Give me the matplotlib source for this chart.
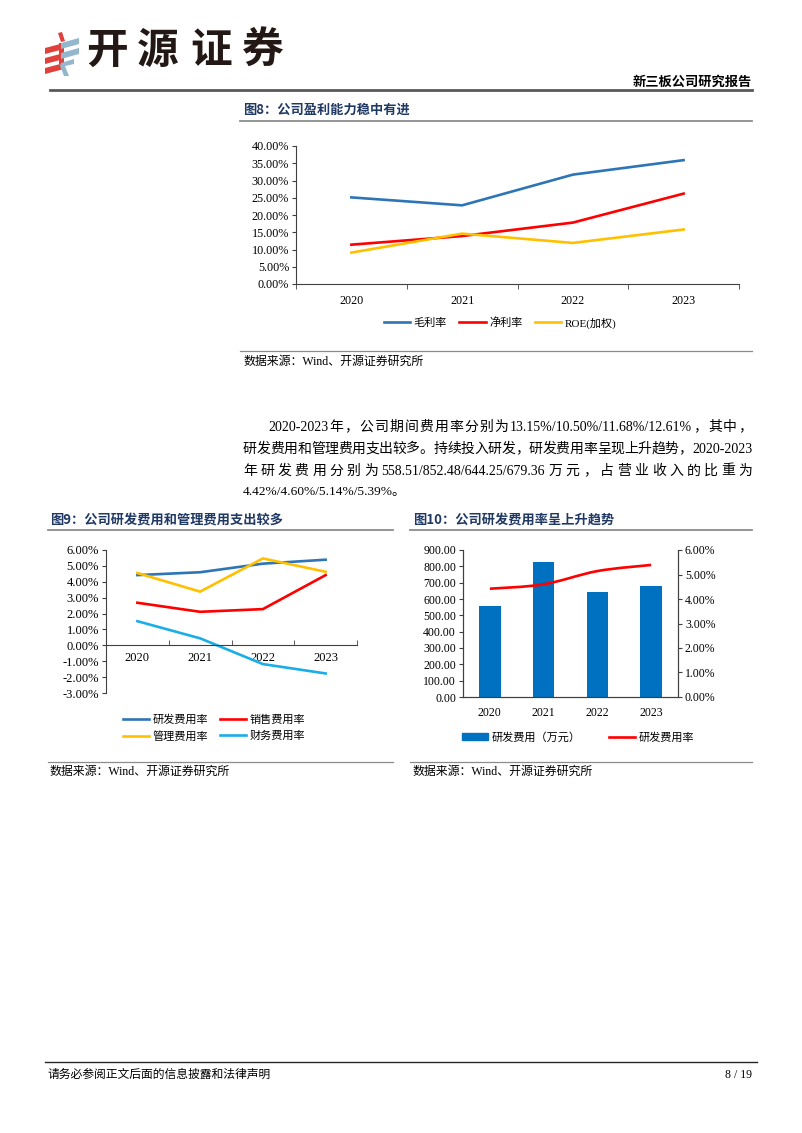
import re
import numpy as np
import matplotlib
matplotlib.use('Agg')
import matplotlib.pyplot as plt
from matplotlib.lines import Line2D
from matplotlib.patches import Polygon, Patch, PathPatch
from matplotlib.path import Path

plt.rcParams['font.family'] = ['Liberation Serif', 'Noto Sans CJK SC']
CJK = ['Noto Sans CJK SC', 'Liberation Serif']

W, H = 802, 1133

# ---- data ----
years = ['2020', '2021', '2022', '2023']

# fig 8 (%)
gross_margin = [25.1, 22.8, 31.7, 35.9]
net_margin = [11.4, 13.9, 17.8, 26.2]
roe_weighted = [9.1, 14.6, 11.9, 15.8]

# fig 9 (%)
rd_rate = [4.42, 4.60, 5.14, 5.39]
sales_rate = [2.68, 2.11, 2.28, 4.42]
admin_rate = [4.55, 3.38, 5.47, 4.63]
fin_rate = [1.52, 0.44, -1.18, -1.77]

# fig 10
rd_expense = [558.51, 828.0, 644.25, 679.36]   # 万元, as drawn

para_lines = [
    '2020-2023 年，公司期间费用率分别为 13.15%/10.50%/11.68%/12.61%，其中，',
    '研发费用和管理费用支出较多。持续投入研发，研发费用率呈现上升趋势，2020-2023',
    '年研发费用分别为 558.51/852.48/644.25/679.36 万元，占营业收入的比重为',
    '4.42%/4.60%/5.14%/5.39%。',
]

BLUE = '#2E75B6'
RED = '#FF0000'
YELLOW = '#FFC000'
LBLUE = '#1AAEE8'
BAR = '#0070C0'
NAVY = '#1F3864'
AXC = '#404040'

fig = plt.figure(figsize=(W / 100, H / 100), dpi=100)


def fx(x):
    return x / W


def fy(y):
    return 1 - y / H


def px_axes(x0, y0, x1, y1):
    return fig.add_axes([fx(x0), fy(y1), (x1 - x0) / W, (y1 - y0) / H])


def hline(x0, x1, y, color, lw):
    fig.add_artist(Line2D([fx(x0), fx(x1)], [fy(y), fy(y)], color=color, lw=lw,
                          transform=fig.transFigure))


def txt(x, y, s, **kw):
    kw.setdefault('va', 'center')
    return fig.text(fx(x), fy(y), s, **kw)


def poly(pts, color):
    fig.add_artist(Polygon([(fx(a), fy(b)) for a, b in pts], closed=True,
                           facecolor=color, edgecolor='none', transform=fig.transFigure))


def justify(s, x0, x1, y, size):
    tokens = re.findall(r'[A-Za-z0-9.%/\-]+|[^\sA-Za-z0-9.%/\-]', s)
    r = fig.canvas.get_renderer()
    widths = []
    for tk in tokens:
        t = fig.text(0, 0, tk, fontsize=size)
        widths.append(t.get_window_extent(r).width)
        t.remove()
    gap = (x1 - x0 - sum(widths)) / (len(tokens) - 1)
    x = x0
    for tk, w in zip(tokens, widths):
        txt(x, y, tk, fontsize=size)
        x += w + gap


def style_spines(a, show):
    for s in ['left', 'right', 'top', 'bottom']:
        a.spines[s].set_visible(s in show)
        a.spines[s].set_color(AXC)
        a.spines[s].set_linewidth(0.8)


# ---- header ----
red = '#E0413B'
lb = '#93B7CC'
poly([(58, 33), (62, 32), (65, 41), (61, 42)], red)
poly([(45, 48), (64, 43), (64, 49), (45, 54)], red)
poly([(45, 58), (64, 53), (64, 59), (45, 64)], red)
poly([(45, 68), (64, 63), (64, 69), (45, 74)], red)
poly([(59, 43), (64, 43), (64, 64), (59, 64)], red)
poly([(61, 43), (79, 38), (79, 44), (61, 49)], lb)
poly([(61, 53), (79, 48), (79, 54), (61, 59)], lb)
poly([(61, 63), (74, 59), (74, 64), (65, 66), (69, 76), (64, 76), (60, 66)], lb)
for ch, xc in zip('开源证券', [107, 158, 211, 263]):
    txt(xc, 51, ch, fontsize=30, weight='bold', family=CJK, ha='center', color='#231815')

txt(752, 82, '新三板公司研究报告', fontsize=9.5, weight='bold', family=CJK, ha='right')
hline(50, 752, 89.5, '#595959', 2.0)

# ---- figure 8 ----
txt(243, 110, '图8：公司盈利能力稳中有进', fontsize=9.5, weight='bold', family=CJK, color=NAVY)
hline(240, 752, 121, '#8C8C8C', 1.3)

x = np.arange(4)
ax8 = px_axes(296, 146, 739, 284)
ax8.plot(x, gross_margin, color=BLUE, lw=1.9, label='毛利率')
ax8.plot(x, net_margin, color=RED, lw=1.9, label='净利率')
ax8.plot(x, roe_weighted, color=YELLOW, lw=1.9, label='ROE(加权)')
ax8.set_xlim(-0.5, 3.5)
ax8.set_ylim(0, 40)
ax8.set_yticks(np.arange(0, 41, 5))
ax8.set_yticklabels([f'{v:.2f}%' for v in np.arange(0, 41, 5)])
ax8.set_xticks(x)
ax8.set_xticklabels(years)
ax8.set_xticks(np.arange(-0.5, 4, 1), minor=True)
ax8.tick_params(axis='y', direction='out', length=3, pad=2, labelsize=8.7, color=AXC)
ax8.tick_params(axis='x', which='major', length=0, pad=8, labelsize=8.7)
ax8.tick_params(axis='x', which='minor', direction='out', length=3.5, color=AXC)
style_spines(ax8, ['left', 'bottom'])
ax8.legend(loc='center', bbox_to_anchor=(fx(500), fy(323)), bbox_transform=fig.transFigure,
           ncol=3, frameon=False, fontsize=8, handlelength=2.4, handletextpad=0.3,
           columnspacing=1.1)

hline(240, 752, 351, '#8C8C8C', 0.9)
txt(243, 362, '数据来源：Wind、开源证券研究所', fontsize=8.6)

# ---- paragraph ----
justify(para_lines[0], 268, 752, 427, 10)
justify(para_lines[1], 243, 752, 449, 10)
justify(para_lines[2], 243, 752, 471, 10)
txt(243, 492, para_lines[3], fontsize=9.6)

# ---- figure 9 ----
txt(50, 520, '图9：公司研发费用和管理费用支出较多', fontsize=9.5, weight='bold', family=CJK, color=NAVY)
hline(48, 393, 530, '#8C8C8C', 1.3)

ax9 = px_axes(106, 550, 357, 693)
l_rd, = ax9.plot(x, rd_rate, color=BLUE, lw=1.9)
l_sa, = ax9.plot(x, sales_rate, color=RED, lw=1.9)
l_ad, = ax9.plot(x, admin_rate, color=YELLOW, lw=1.9)
l_fi, = ax9.plot(x, fin_rate, color=LBLUE, lw=1.9)
ax9.set_xlim(-0.5, 3.5)
ax9.set_ylim(-3, 6)
yt9 = np.arange(-3, 7, 1)
ax9.set_yticks(yt9)
ax9.set_yticklabels([f'{v:.2f}%' for v in yt9])
ax9.set_xticks(x)
ax9.set_xticklabels(years)
ax9.set_xticks(np.arange(0.5, 4, 1), minor=True)
ax9.spines['bottom'].set_position(('data', 0))
ax9.tick_params(axis='y', direction='out', length=3, pad=2, labelsize=9, color=AXC)
ax9.tick_params(axis='x', which='major', length=0, pad=5, labelsize=9)
ax9.tick_params(axis='x', which='minor', direction='in', length=3.5, color=AXC)
style_spines(ax9, ['left', 'bottom'])
# column-major fill: rows read 研发/销售, 管理/财务
ax9.legend([l_rd, l_ad, l_sa, l_fi], ['研发费用率', '管理费用率', '销售费用率', '财务费用率'],
           loc='center', bbox_to_anchor=(fx(214), fy(728)), bbox_transform=fig.transFigure,
           ncol=2, frameon=False, fontsize=8, handlelength=2.4, handletextpad=0.3,
           columnspacing=1.0, labelspacing=0.55)

hline(48, 393, 762, '#8C8C8C', 0.9)
txt(50, 772, '数据来源：Wind、开源证券研究所', fontsize=8.6)

# ---- figure 10 ----
txt(413, 520, '图10：公司研发费用率呈上升趋势', fontsize=9.5, weight='bold', family=CJK, color=NAVY)
hline(410, 752, 530, '#8C8C8C', 1.3)

ax10 = px_axes(463, 550, 678, 697)
ax10.bar(x, rd_expense, width=0.4, color=BAR)
ax10.set_xlim(-0.5, 3.5)
ax10.set_ylim(0, 900)
yt10 = np.arange(0, 901, 100)
ax10.set_yticks(yt10)
ax10.set_yticklabels([f'{v:.2f}' for v in yt10])
ax10.set_xticks(x)
ax10.set_xticklabels(years)
ax10.tick_params(axis='y', direction='out', length=3, pad=2, labelsize=8.5, color=AXC)
ax10.tick_params(axis='x', length=0, pad=7, labelsize=8.5)

ax10r = ax10.twinx()
ax10r.set_ylim(0, 6)
yt10r = np.arange(0, 7, 1)
ax10r.set_yticks(yt10r)
ax10r.set_yticklabels([f'{v:.2f}%' for v in yt10r])
ax10r.tick_params(axis='y', direction='out', length=3, pad=2, labelsize=8.5, color=AXC)

# smooth curve through the rate points (Catmull-Rom as cubic Beziers)
pts = np.column_stack([x, rd_rate]).astype(float)
verts = [tuple(pts[0])]
codes = [Path.MOVETO]
for i in range(len(pts) - 1):
    p0 = pts[max(i - 1, 0)]
    p1 = pts[i]
    p2 = pts[i + 1]
    p3 = pts[min(i + 2, len(pts) - 1)]
    verts += [tuple(p1 + (p2 - p0) / 6), tuple(p2 - (p3 - p1) / 6), tuple(p2)]
    codes += [Path.CURVE4] * 3
ax10r.add_patch(PathPatch(Path(verts, codes), facecolor='none', edgecolor=RED, lw=1.9))

style_spines(ax10, ['left', 'right', 'bottom'])
style_spines(ax10r, ['left', 'right', 'bottom'])

handles = [Patch(color=BAR), Line2D([], [], color=RED, lw=1.9)]
ax10r.legend(handles, ['研发费用（万元）', '研发费用率'], loc='center',
             bbox_to_anchor=(fx(578), fy(737)), bbox_transform=fig.transFigure,
             ncol=2, frameon=False, fontsize=8, handlelength=2.4, handleheight=0.5,
             handletextpad=0.3, columnspacing=2.5)

hline(410, 752, 762, '#8C8C8C', 0.9)
txt(413, 772, '数据来源：Wind、开源证券研究所', fontsize=8.6)

# ---- footer ----
hline(45, 757, 1062, '#262626', 1.0)
txt(48, 1075, '请务必参阅正文后面的信息披露和法律声明', fontsize=8.5)
txt(752, 1075, '8 / 19', fontsize=8.5, ha='right')

fig.savefig('out.png', dpi=100)
